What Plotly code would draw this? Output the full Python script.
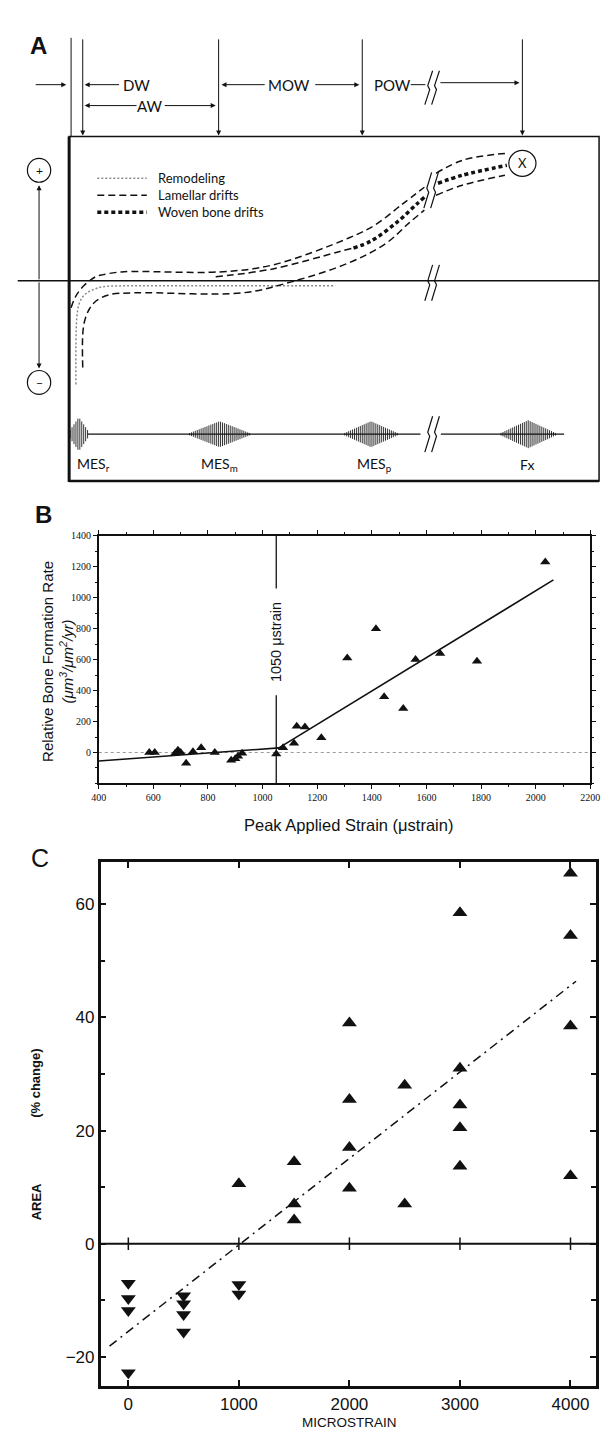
import plotly.graph_objects as go

W, H = 611, 1446

# ================= Panel A (schematic; coordinates in diagram units) =================
remod_x = [70, 70, 71, 73, 77, 83, 90, 97, 120, 200, 337]
remod_y = [380, 340, 312, 300, 292, 287, 284, 282, 281, 281, 281]

ulam_x = [65, 68, 72, 78, 84, 90, 97, 117, 218, 273, 351, 378, 405, 429]
ulam_y = [303, 295, 288, 281, 276, 272, 270, 267, 267, 260, 233, 220, 200, 182]
ulam2_x = [441, 468, 512]
ulam2_y = [168, 155, 148]

llam_x = [77, 77, 79, 84, 91, 104, 130, 242, 292, 351, 390, 413, 429]
llam_y = [363, 330, 316, 304, 296, 290, 288, 288, 277, 258, 238, 218, 205]
llam2_x = [441, 468, 512]
llam2_y = [190, 180, 170]

mid_x = [214, 273, 340, 356]
mid_y = [272, 264, 247, 243]
woven_x = [356, 374, 401, 421, 429]
woven_y = [243, 236, 217, 199, 192]
woven2_x = [443, 468, 514]
woven2_y = [178, 170, 160]

legend_labels = ["Remodeling", "Lamellar drifts", "Woven bone drifts"]
legend_rows = [173, 190, 207]

window_lines = [77, 217, 365, 530]
burst_center = [73, 218, 374, 536]
burst_halfwidth = [9, 31, 27, 28]
burst_amp = [17, 13, 13, 14]
burst_labels = ["MES<sub>r</sub>", "MES<sub>m</sub>", "MES<sub>p</sub>", "Fx"]
burst_label_x = [88, 218, 378, 535]

# ================= Panel B data =================
b_strain = [585, 605, 680, 690, 700, 720, 745, 775, 825, 885, 900, 910, 925, 1050,
            1075, 1115, 1125, 1155, 1215, 1310, 1415, 1445, 1515, 1560, 1650, 1785, 2035]
b_rate = [0, 0, -5, 15, 0, -70, 5, 30, 0, -50, -40, -25, -5, -10,
          30, 60, 170, 165, 95, 610, 800, 360, 285, 600, 640, 590, 1230]
b_fit_low_x = [400, 1060]
b_fit_low_y = [-55, 30]
b_fit_high_x = [1055, 2065]
b_fit_high_y = [25, 1115]
b_threshold = 1050
b_xticks = [400, 600, 800, 1000, 1200, 1400, 1600, 1800, 2000, 2200]
b_yticks = [0, 200, 400, 600, 800, 1000, 1200, 1400]

# ================= Panel C data =================
c_up_x = [4000, 3000, 4000, 2000, 4000, 3000, 2500, 2000, 3000, 3000, 2000, 1500,
          3000, 4000, 1000, 2000, 1500, 2500, 1500]
c_up_y = [65.5, 58.5, 54.5, 39, 38.5, 31, 28, 25.5, 24.5, 20.5, 17, 14.5,
          13.7, 12, 10.6, 9.8, 7, 7, 4.2]
c_down_x = [0, 0, 0, 0, 500, 500, 500, 500, 1000, 1000]
c_down_y = [-7, -9.7, -11.8, -22.8, -9.2, -10.6, -12.5, -15.6, -7.2, -8.9]
c_fit_x = [-170, 4050]
c_fit_y = [-18.1, 46.4]
c_xticks = [0, 1000, 2000, 3000, 4000]
c_yticks = [-20, 0, 20, 40, 60]

INK = "#111111"
FA = "Lato"

fig = go.Figure()

def trA(x, y, **kw):
    fig.add_trace(go.Scatter(x=x, y=y, mode="lines", xaxis="x", yaxis="y",
                             showlegend=False, hoverinfo="skip", **kw))

dash_lam = dict(color=INK, width=1.5, dash="7px,4px")
dash_wov = dict(color=INK, width=3.5, dash="4px,3px")
dot_rem = dict(color="#8a8a8a", width=1.5, dash="2px,2px")

trA(remod_x, remod_y, line=dict(shape="spline", **dot_rem))
trA(ulam_x, ulam_y, line=dict(shape="spline", **dash_lam))
trA(ulam2_x, ulam2_y, line=dict(shape="spline", **dash_lam))
trA(llam_x, llam_y, line=dict(shape="spline", **dash_lam))
trA(llam2_x, llam2_y, line=dict(shape="spline", **dash_lam))
trA(mid_x, mid_y, line=dict(shape="spline", **dash_lam))
trA(woven_x, woven_y, line=dict(shape="spline", **dash_wov))
trA(woven2_x, woven2_y, line=dict(shape="spline", **dash_wov))

for row, st in zip(legend_rows, [dot_rem, dash_lam, dash_wov]):
    trA([92, 143], [row, row], line=st)

wave_base = 430
bx, by = [], []
for c, hw, a in zip(burst_center, burst_halfwidth, burst_amp):
    for k in range(-hw, hw + 1, 2):
        amp = a * (1 - abs(k) / (hw + 3))
        bx += [c + k, c + k, None]
        by += [wave_base - amp, wave_base + amp, None]
trA(bx, by, line=dict(color="#333333", width=1))
trA([82, 425, None, 446, 573], [wave_base] * 2 + [None] + [wave_base] * 2,
    line=dict(color=INK, width=1.2))

shapes = []
annotations = []

def sA(**kw):
    d = dict(xref="x", yref="y")
    d.update(kw)
    shapes.append(d)

sA(type="rect", x0=63, x1=609, y0=131, y1=477, line=dict(color=INK, width=1.5))
sA(type="line", x0=63, x1=63, y0=131, y1=478, line=dict(color=INK, width=3))
sA(type="line", x0=63, x1=609, y0=477, y1=477, line=dict(color=INK, width=2.5))
sA(type="line", x0=10, x1=609, y0=276, y1=276, line=dict(color=INK, width=1.5))
sA(type="line", x0=65, x1=65, y0=32, y1=131, line=dict(color=INK, width=1))

def brk(cx, cy, h):
    for off in (-3.5, 3.5):
        x = cx + off
        sA(type="path",
           path=f"M {x-4},{cy+h/2} L {x+1},{cy+2} L {x-1},{cy-2} L {x+4},{cy-h/2}",
           line=dict(color=INK, width=1.2))

brk(437, 82, 34)
brk(436, 185, 36)
brk(437, 278, 36)
brk(437, 430, 36)

sA(type="circle", x0=20, x1=44, y0=153, y1=177, line=dict(color=INK, width=1.2))
sA(type="circle", x0=20, x1=44, y0=366, y1=390, line=dict(color=INK, width=1.2))
sA(type="circle", x0=516, x1=544, y0=145, y1=171, line=dict(color=INK, width=1.2))

def arrA(hx, hy, tx, ty):
    annotations.append(dict(x=hx, y=hy, ax=tx, ay=ty, xref="x", yref="y",
                            axref="x", ayref="y", text="", showarrow=True,
                            arrowhead=2, arrowsize=1, arrowwidth=1, arrowcolor=INK))

def txtA(x, y, t, size=15, **kw):
    annotations.append(dict(x=x, y=y, xref="x", yref="y", text=t, showarrow=False,
                            font=dict(family=FA, size=size, color=INK), **kw))

for xl in window_lines:
    arrA(xl, 130, xl, 32)
arrA(60, 79, 27, 79)
arrA(79, 79, 116, 79); txtA(132, 79, "DW")
arrA(79, 100, 134, 100); txtA(146, 100, "AW"); arrA(214, 100, 160, 100)
arrA(220, 79, 266, 79); txtA(290, 79, "MOW"); arrA(362, 79, 315, 79)
txtA(396, 79, "POW")
sA(type="line", x0=415, x1=430, y0=79, y1=79, line=dict(color=INK, width=1))
arrA(527, 77, 444, 77)
arrA(32, 180, 32, 276)
arrA(32, 364, 32, 276)
txtA(32, 165, "+", size=12)
txtA(32, 378, "−", size=12)
txtA(530, 158, "X", size=13)
for lab, row in zip(legend_labels, legend_rows):
    txtA(152, row, lab, size=13, xanchor="left")
for lab, xl in zip(burst_labels, burst_label_x):
    txtA(xl, 460, lab, size=14)

# ================= Panel B traces =================
fig.add_trace(go.Scatter(x=[400, 2200], y=[0, 0], mode="lines", xaxis="x2", yaxis="y2",
                         line=dict(color="#9a9a9a", width=1.2, dash="dot"), showlegend=False))
fig.add_trace(go.Scatter(x=[b_threshold, b_threshold, None, b_threshold, b_threshold],
                         y=[-200, 370, None, 1060, 1400], mode="lines", xaxis="x2", yaxis="y2",
                         line=dict(color=INK, width=1.3), showlegend=False))
fig.add_trace(go.Scatter(x=b_fit_low_x, y=b_fit_low_y, mode="lines", xaxis="x2", yaxis="y2",
                         line=dict(color=INK, width=1.6), showlegend=False))
fig.add_trace(go.Scatter(x=b_fit_high_x, y=b_fit_high_y, mode="lines", xaxis="x2", yaxis="y2",
                         line=dict(color=INK, width=1.6), showlegend=False))
fig.add_trace(go.Scatter(x=b_strain, y=b_rate, mode="markers", xaxis="x2", yaxis="y2",
                         marker=dict(symbol="triangle-up", size=9, color=INK), showlegend=False))
annotations.append(dict(x=b_threshold, y=715, xref="x2", yref="y2", text="1050 μstrain",
                        textangle=-90, showarrow=False,
                        font=dict(family="Liberation Sans", size=14.5, color=INK)))

# ================= Panel C traces =================
fig.add_trace(go.Scatter(x=[-250, 4232], y=[0, 0], mode="lines", xaxis="x3", yaxis="y3",
                         line=dict(color=INK, width=2), showlegend=False))
fig.add_trace(go.Scatter(x=c_xticks, y=[0] * len(c_xticks), mode="markers", xaxis="x3", yaxis="y3",
                         marker=dict(symbol="line-ns", size=9, line=dict(color=INK, width=1.5)),
                         showlegend=False))
fig.add_trace(go.Scatter(x=c_fit_x, y=c_fit_y, mode="lines", xaxis="x3", yaxis="y3",
                         line=dict(color=INK, width=1.5, dash="9px,5px,2px,5px"), showlegend=False))
fig.add_trace(go.Scatter(x=c_up_x, y=c_up_y, mode="markers", xaxis="x3", yaxis="y3",
                         marker=dict(symbol="triangle-up", size=13, color=INK), showlegend=False))
fig.add_trace(go.Scatter(x=c_down_x, y=c_down_y, mode="markers", xaxis="x3", yaxis="y3",
                         marker=dict(symbol="triangle-down", size=13, color=INK), showlegend=False))

def px(v):
    return v / W

def py(v):
    return 1 - v / H

def ptxt(x, y, t, size, family="Liberation Sans", angle=0, bold=False, **kw):
    annotations.append(dict(x=px(x), y=py(y), xref="paper", yref="paper", text=t,
                            showarrow=False, textangle=angle,
                            font=dict(family=family, size=size, color=INK,
                                      weight="bold" if bold else "normal"), **kw))

ptxt(21, 24, "A", 24, bold=True)
ptxt(26, 511, "B", 24, bold=True)
ptxt(22, 856, "C", 25)
ptxt(30, 658, "Relative Bone Formation Rate<br><i>(μm<sup>3</sup>/μm<sup>2</sup>/yr)</i>", 15, angle=-90)
ptxt(351, 822, "Peak Applied Strain (μstrain)", 16.5)
ptxt(19, 1118, "(% change)", 13, angle=-90, bold=True)
ptxt(19, 1221, "AREA", 13, angle=-90, bold=True)
ptxt(352, 1432, "MICROSTRAIN", 13.5)

bax = dict(showline=True, linecolor=INK, linewidth=1.5, mirror="allticks", ticks="outside",
           ticklen=4, tickwidth=1, tickcolor=INK, showgrid=False, zeroline=False,
           tickfont=dict(family="Liberation Serif", size=10, color=INK))
cax = dict(showline=True, linecolor=INK, linewidth=2.5, mirror="allticks", ticks="inside",
           ticklen=6, tickwidth=1.5, tickcolor=INK, showgrid=False, zeroline=False,
           tickfont=dict(family="Liberation Sans", size=17, color=INK))

fig.update_layout(
    width=W, height=H, margin=dict(l=0, r=0, t=0, b=0),
    paper_bgcolor="white", plot_bgcolor="white", showlegend=False,
    xaxis=dict(domain=[0, 1], range=[0, W], visible=False, fixedrange=True),
    yaxis=dict(domain=[1 - 500 / H, 1], range=[500, 0], visible=False, fixedrange=True, anchor="x"),
    xaxis2=dict(domain=[px(93.5), px(600)], range=[400, 2200], anchor="y2", tickvals=b_xticks,
                minor=dict(dtick=100, ticklen=2, tickcolor=INK, ticks="outside"), **bax),
    yaxis2=dict(domain=[py(780.7), py(532)], range=[-200, 1400], anchor="x2", tickvals=b_yticks,
                minor=dict(dtick=100, ticklen=2, tickcolor=INK, ticks="outside"), **bax),
    xaxis3=dict(domain=[px(95.5), px(606)], range=[-250, 4232], anchor="y3", tickvals=c_xticks,
                ticklabelstandoff=1, **cax),
    yaxis3=dict(domain=[py(1386), py(860)], range=[-25.2, 67.4], anchor="x3", tickvals=c_yticks,
                minor=dict(dtick=10, ticklen=5, tickcolor=INK, ticks="inside"), **cax),
    shapes=shapes, annotations=annotations,
)

fig.write_html("out.html", config={"displayModeBar": False},
               post_script="document.body.style.margin='0';document.body.style.overflow='hidden';")
